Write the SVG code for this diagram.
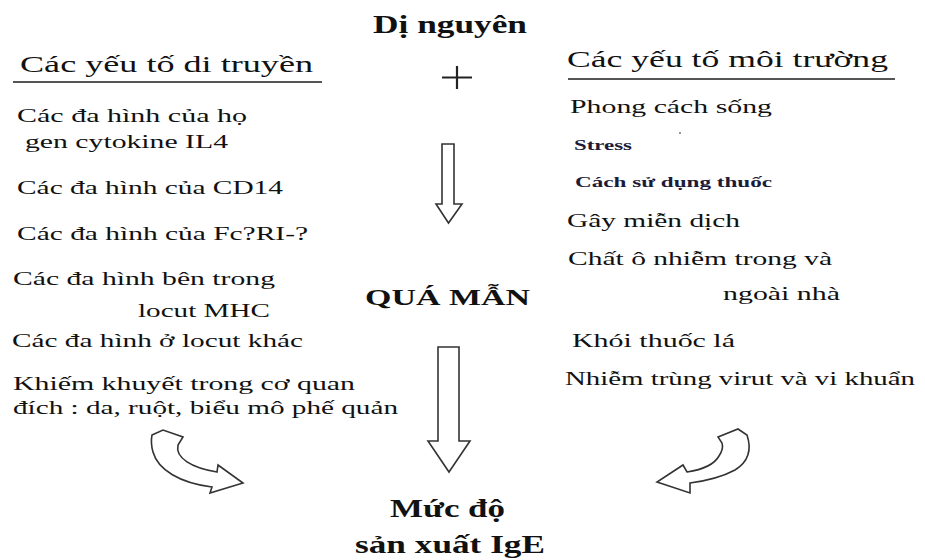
<svg xmlns="http://www.w3.org/2000/svg" width="925" height="560" viewBox="0 0 925 560">
<style>
text{font-family:"Liberation Serif","Times New Roman",serif;fill:#111;}
.t{font-size:26px;font-weight:bold;}
.h{font-size:23px;}
.i{font-size:19px;}
.s{font-size:14px;font-weight:bold;fill:#1c1c3a;}
.ul{stroke:#555;stroke-width:2;}
.ar{fill:#fff;stroke:#333;stroke-width:1.6;stroke-linejoin:miter;}
</style>
<rect width="925" height="560" fill="#fff"/>

<g id="allergen">
<text class="t" x="373" y="33" textLength="154" lengthAdjust="spacingAndGlyphs">Dị nguyên</text>
<path d="M457,66 V89 M442,77.5 H472" stroke="#222" stroke-width="2.2"/>
</g>

<g id="genetic">
<text class="h" x="20" y="72" textLength="293" lengthAdjust="spacingAndGlyphs">Các yếu tố di truyền</text>
<line class="ul" x1="13" y1="82" x2="322" y2="82"/>
<text class="i" x="17" y="122" textLength="230" lengthAdjust="spacingAndGlyphs">Các đa hình của họ</text>
<text class="i" x="25" y="148" textLength="203" lengthAdjust="spacingAndGlyphs">gen cytokine IL4</text>
<text class="i" x="17" y="194" textLength="266" lengthAdjust="spacingAndGlyphs">Các đa hình của CD14</text>
<text class="i" x="17" y="240" textLength="291" lengthAdjust="spacingAndGlyphs">Các đa hình của Fc?RI-?</text>
<text class="i" x="13" y="285" textLength="262" lengthAdjust="spacingAndGlyphs">Các đa hình bên trong</text>
<text class="i" x="138" y="317" textLength="132" lengthAdjust="spacingAndGlyphs">locut MHC</text>
<text class="i" x="12" y="347" textLength="291" lengthAdjust="spacingAndGlyphs">Các đa hình ở locut khác</text>
<text class="i" x="13" y="390" textLength="342" lengthAdjust="spacingAndGlyphs">Khiếm khuyết trong cơ quan</text>
<text class="i" x="13" y="414" textLength="385" lengthAdjust="spacingAndGlyphs">đích : da, ruột, biểu mô phế quản</text>
</g>

<g id="environment">
<text class="h" x="567" y="67" textLength="321" lengthAdjust="spacingAndGlyphs">Các yếu tố môi trường</text>
<line class="ul" x1="568" y1="79" x2="895" y2="79"/>
<text class="i" x="570" y="113" textLength="202" lengthAdjust="spacingAndGlyphs">Phong cách sống</text>
<circle cx="680" cy="133" r="0.9" fill="#667"/>
<text class="s" x="574" y="150" textLength="58" lengthAdjust="spacingAndGlyphs">Stress</text>
<text class="s" x="575" y="187" textLength="197" lengthAdjust="spacingAndGlyphs">Cách sử dụng thuốc</text>
<text class="i" x="567" y="227" textLength="173" lengthAdjust="spacingAndGlyphs">Gây miễn dịch</text>
<text class="i" x="568" y="265" textLength="264" lengthAdjust="spacingAndGlyphs">Chất ô nhiễm trong và</text>
<text class="i" x="723" y="300" textLength="117" lengthAdjust="spacingAndGlyphs">ngoài nhà</text>
<text class="i" x="572" y="347" textLength="163" lengthAdjust="spacingAndGlyphs">Khói thuốc lá</text>
<text class="i" x="565" y="385" textLength="350" lengthAdjust="spacingAndGlyphs">Nhiễm trùng virut và vi khuẩn</text>
</g>

<g id="hypersensitivity">
<text class="t" x="365" y="305" textLength="165" lengthAdjust="spacingAndGlyphs" style="font-size:24px">QUÁ MẪN</text>
</g>

<g id="ige">
<text class="t" x="390" y="517" textLength="115" lengthAdjust="spacingAndGlyphs" style="font-size:25px">Mức độ</text>
<text class="t" x="355" y="553" textLength="190" lengthAdjust="spacingAndGlyphs" style="font-size:25px">sản xuất IgE</text>
</g>

<g id="connectors">
<path class="ar" d="M442,144 H454 V204 H462 L448.5,223 L436,204 H442 Z"/>
<path class="ar" d="M438,347 H459 V441 H470 L449,472 L428,441 H438 Z"/>
<path class="ar" d="M152,435 L163,430 L183,437 L178,445 C175,458 192,468 217,472 L218,465 L243,483 L210,493 L212,487 C180,483 158,470 153,452 C151,445 151,440 152,435 Z"/>
<path class="ar" d="M718,437 L738,429 L747,435 C752,450 748,462 735,470 C722,477 705,481 690,483 L690,493 L657,482 L683,465 L687,472 C700,470 714,465 719,456 C723,450 723,446 722,443 Z"/>
</g>
</svg>
